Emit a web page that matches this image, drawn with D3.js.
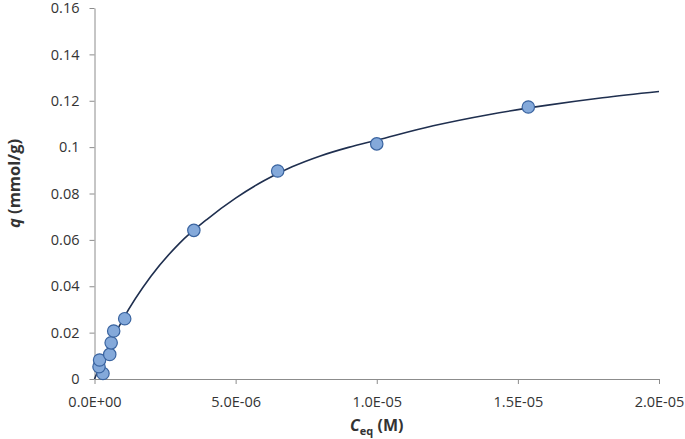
<!DOCTYPE html>
<html>
<head>
<meta charset="utf-8">
<script src="https://cdn.jsdelivr.net/npm/d3@7"></script>
<style>
  body { margin: 0; background: #fff; }
  text { font-family: "Open Sans", "Liberation Sans", sans-serif; }
</style>
</head>
<body>
<div id="chart"></div>
<script>
// measured points (Ceq in M, q in mmol/g)
let ceqValues = [0.30e-6, 0.16e-6, 0.18e-6, 0.54e-6, 0.59e-6, 0.68e-6, 1.07e-6, 3.52e-6, 6.49e-6, 1.0e-5, 1.537e-5];
let qValues = [0.0024, 0.0053, 0.0082, 0.0106, 0.0156, 0.0207, 0.0260, 0.0641, 0.0897, 0.1014, 0.1173];

// fitted line
let curveCeq = [0, 0.5e-6, 1e-6, 2e-6, 3e-6, 4e-6, 5e-6, 6e-6, 7e-6, 8e-6, 9e-6, 1e-5, 1.2e-5, 1.4e-5, 1.6e-5, 1.8e-5, 2e-5];
let curveQ = [0, 0.0138, 0.0256, 0.0443, 0.0584, 0.0690, 0.0780, 0.0855, 0.0915, 0.0962, 0.0999, 0.1030, 0.1092, 0.1141, 0.1180, 0.1213, 0.1240];

let xTicks = [0, 5e-6, 1e-5, 1.5e-5, 2e-5];
let xTickLabels = ["0.0E+00", "5.0E-06", "1.0E-05", "1.5E-05", "2.0E-05"];
let yTicks = [0, 0.02, 0.04, 0.06, 0.08, 0.1, 0.12, 0.14, 0.16];
let yTickLabels = ["0", "0.02", "0.04", "0.06", "0.08", "0.1", "0.12", "0.14", "0.16"];

let width = 685, height = 439;
let margin = {top: 8, right: 26, bottom: 60, left: 94.5};

let svg = d3.select("#chart")
    .append("svg")
    .attr("width", width)
    .attr("height", height);

let x = d3.scaleLinear()
    .domain([0, 2e-5])
    .range([margin.left, width - margin.right]);

let y = d3.scaleLinear()
    .domain([0, 0.16])
    .range([height - margin.bottom, margin.top]);

let axisColor = "#8c8c8c";
let textColor = "#333333";

// y axis
let yAxis = svg.append("g")
    .attr("transform", `translate(${margin.left}, 0)`)
    .call(d3.axisLeft(y).tickValues(yTicks)
        .tickFormat((d, i) => yTickLabels[i])
        .tickSize(5).tickSizeOuter(0).tickPadding(10));

// x axis
let xAxis = svg.append("g")
    .attr("transform", `translate(0, ${height - margin.bottom})`)
    .call(d3.axisBottom(x).tickValues(xTicks)
        .tickFormat((d, i) => xTickLabels[i])
        .tickSize(5).tickSizeOuter(0).tickPadding(13));

[xAxis, yAxis].forEach(function(a) {
    a.select(".domain").attr("stroke", axisColor).attr("stroke-width", 1);
    a.selectAll(".tick line").attr("stroke", axisColor);
    a.selectAll(".tick text")
        .attr("fill", textColor)
        .style("font-size", "14.5px")
        .style("font-family", "'Open Sans', 'Liberation Sans', sans-serif");
});

// fitted curve
let line = d3.line()
    .x((d, i) => x(curveCeq[i]))
    .y((d, i) => y(curveQ[i]))
    .curve(d3.curveMonotoneX);

svg.append("path")
    .datum(curveQ)
    .attr("d", line)
    .attr("fill", "none")
    .attr("stroke", "#1f2f4f")
    .attr("stroke-width", 1.6);

// points
svg.selectAll("circle.pt")
    .data(qValues)
    .enter()
    .append("circle")
    .attr("class", "pt")
    .attr("cx", (d, i) => x(ceqValues[i]))
    .attr("cy", d => y(d))
    .attr("r", 6.2)
    .attr("fill", "#84a9da")
    .attr("stroke", "#3a64a0")
    .attr("stroke-width", 1.2);

// x axis title
let xTitle = svg.append("text")
    .attr("x", (x(0) + x(2e-5)) / 2)
    .attr("y", 431)
    .attr("text-anchor", "middle")
    .attr("fill", textColor)
    .style("font-size", "16px")
    .style("font-weight", "bold");
xTitle.append("tspan").style("font-style", "italic").text("C");
xTitle.append("tspan").attr("dy", 4).style("font-size", "11px").text("eq");
xTitle.append("tspan").attr("dy", -4).text(" (M)");

// y axis title
let yTitle = svg.append("text")
    .attr("transform", `translate(20, ${(y(0) + y(0.16)) / 2 - 10}) rotate(-90)`)
    .attr("text-anchor", "middle")
    .attr("fill", textColor)
    .style("font-size", "16.5px")
    .style("font-weight", "bold");
yTitle.append("tspan").style("font-style", "italic").text("q");
yTitle.append("tspan").text(" (mmol/g)");
</script>
</body>
</html>
